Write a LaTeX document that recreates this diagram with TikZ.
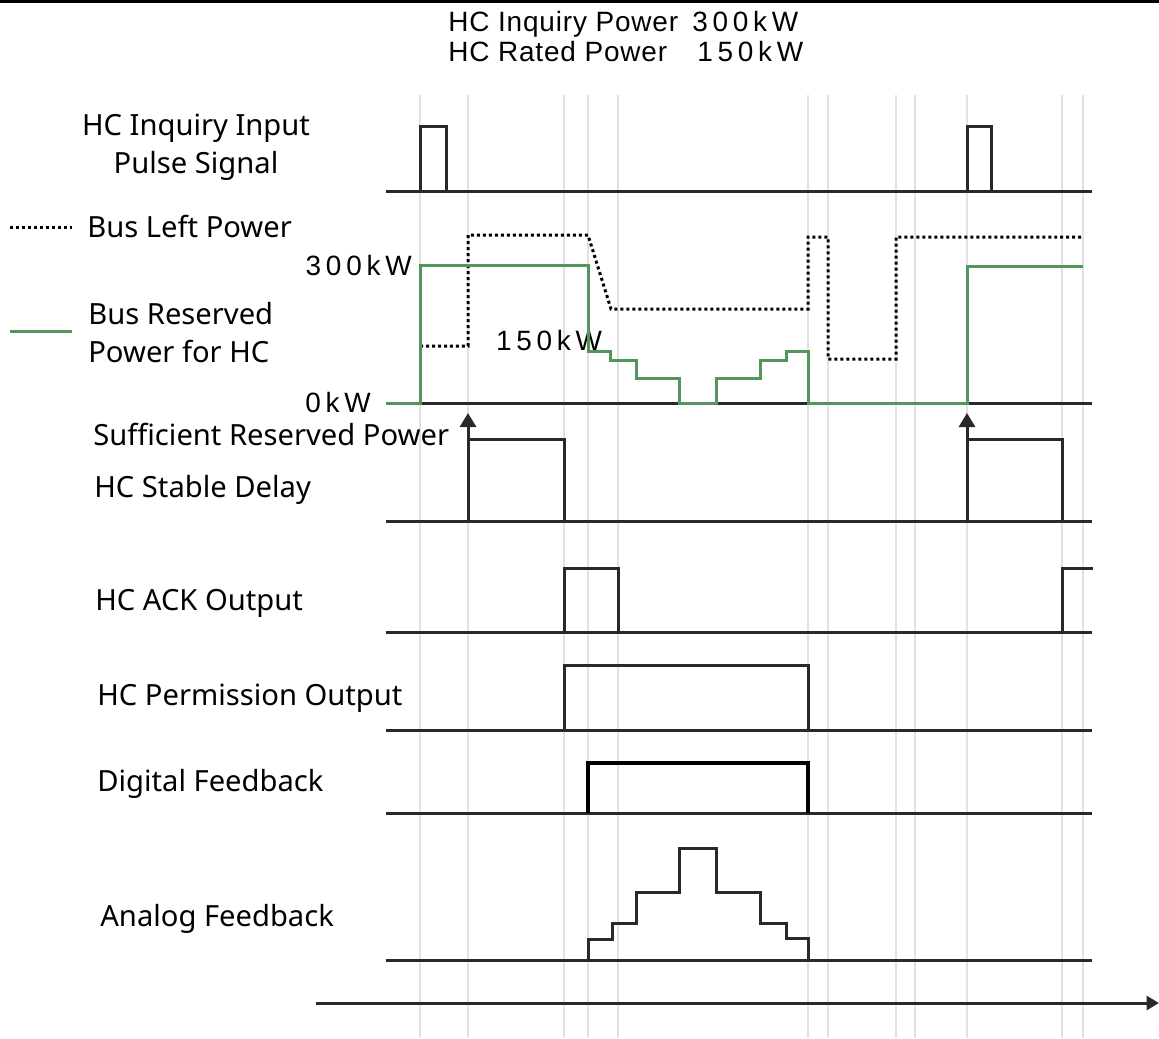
\documentclass[tikz,border=0pt]{standalone}
\usepackage{fontspec}
\setmainfont{Noto Sans}
\newfontfamily\headfont[LetterSpace=3]{Liberation Sans}
\newfontfamily\valfont[LetterSpace=17]{Liberation Sans}
\usepackage{xcolor}
\usetikzlibrary{arrows.meta}

\definecolor{sigcol}{RGB}{45,40,40}
\definecolor{gridcol}{RGB}{226,226,226}
\definecolor{rescol}{RGB}{82,150,92}

\begin{document}
\begin{tikzpicture}[
    x=0.02cm, y=-0.02cm,
    lbl/.style={font=\fontsize{16.6}{21.6}\selectfont, inner sep=0pt},
    head/.style={font=\headfont\fontsize{15.9}{17}\selectfont, inner sep=0pt, anchor=base west},
    val/.style={font=\valfont\fontsize{15.9}{17}\selectfont, inner sep=0pt},
    grid/.style={draw=gridcol, line width=0.05cm},
    base/.style={draw=sigcol, line width=0.06cm},
    sig/.style={base, line join=miter},
    digi/.style={draw=black, line width=0.065cm, line join=miter},
    reserved/.style={draw=rescol, line width=0.06cm, line join=miter},
    leftpow/.style={draw=black, line width=0.06cm, dash pattern=on 0.06cm off 0.06cm},
    trig/.style={base, -{Triangle[length=0.28cm, width=0.32cm]}},
]
\useasboundingbox (0,0) rectangle (1159,1038);

% edge of the frame
\draw[black, line width=0.05cm] (0,1.5) -- (1159,1.5);

% time marks
\foreach \t in {420,468,564,588,618,808,828,896,915,967,1062,1083}
    \draw[grid] (\t,95) -- (\t,1038);

% header
\node[head] (inqpow) at (448,31) {HC Inquiry Power};
\node[head] (inqval) at (692,31) {\valfont 300kW};
\node[head] (ratepow) at (448,61) {HC Rated Power};
\node[head] (rateval) at (697,61) {\valfont 150kW};

% signal names
\node[lbl, align=center, anchor=base] (inq) at (196,173) {HC Inquiry Input\\Pulse Signal};
\draw[leftpow] (10,227) -- (72,227);
\node[lbl, anchor=base west] (leftlbl) at (87,237) {Bus Left Power};
\draw[reserved] (10,331) -- (72,331);
\node[lbl, align=left, anchor=base west] (reslbl) at (88,362) {Bus Reserved\\Power for HC};
\node[val, anchor=base east] (v300) at (412,275) {300kW};
\node[val, anchor=base east] (v0) at (371,412) {0kW};
\node[val, anchor=base] (v150) at (549,350) {150kW};
\node[lbl, anchor=base west] (suff) at (93,445) {Sufficient Reserved Power};
\node[lbl, anchor=base west] (stable) at (94,497) {HC Stable Delay};
\node[lbl, anchor=base west] (ack) at (95,610) {HC ACK Output};
\node[lbl, anchor=base west] (perm) at (97,705) {HC Permission Output};
\node[lbl, anchor=base west] (digfb) at (97,791) {Digital Feedback};
\node[lbl, anchor=base west] (anafb) at (100,926) {Analog Feedback};

% base lines
\foreach \y in {191,403,521,632,730,813,960}
    \draw[base] (386,\y) -- (1092,\y);

% inquiry pulses
\draw[sig] (420,191) |- (446,126) -- (446,191);
\draw[sig] (967,191) |- (991,126) -- (991,191);

% bus power
\draw[leftpow] (420,346) -- (468,346) -- (468,235) -- (588,235) -- (611,309)
    -- (808,309) -- (808,237) -- (828,237) -- (828,359) -- (896,359)
    -- (896,237) -- (1083,237);
\draw[reserved] (386,403) -- (420,403) -- (420,265) -- (588,265) -- (588,351)
    -- (610,351) -- (610,360) -- (636,360) -- (636,378) -- (679,378)
    -- (679,403) -- (716,403) -- (716,378) -- (760,378) -- (760,360)
    -- (786,360) -- (786,351) -- (808,351) -- (808,403) -- (967,403)
    -- (967,266) -- (1083,266);

% stable delay
\draw[sig] (468,521) |- (564,439) -- (564,521);
\draw[sig] (967,521) |- (1062,439) -- (1062,521);
\coordinate (ok1) at (468,521);
\coordinate (ok1tip) at (468,413);
\coordinate (ok2) at (967,521);
\coordinate (ok2tip) at (967,413);
\draw[trig] (ok1) -- (ok1tip);
\draw[trig] (ok2) -- (ok2tip);

% ack, permission, feedback
\draw[sig] (564,632) |- (618,568) -- (618,632);
\draw[sig] (1062,632) |- (1093,568);
\draw[sig] (564,730) |- (808,665) -- (808,730);
\draw[digi] (588,813) |- (808,763) -- (808,813);
\draw[sig] (588,960) -- (588,939) -- (612,939) -- (612,923) -- (636,923)
    -- (636,892) -- (679,892) -- (679,848) -- (716,848) -- (716,892)
    -- (760,892) -- (760,923) -- (786,923) -- (786,938) -- (808,938)
    -- (808,960);

% time axis
\coordinate (t0) at (316,1003);
\coordinate (t1) at (1159,1003);
\draw[base, -{Triangle[length=0.25cm, width=0.28cm]}] (t0) -- (t1);

\end{tikzpicture}
\end{document}
